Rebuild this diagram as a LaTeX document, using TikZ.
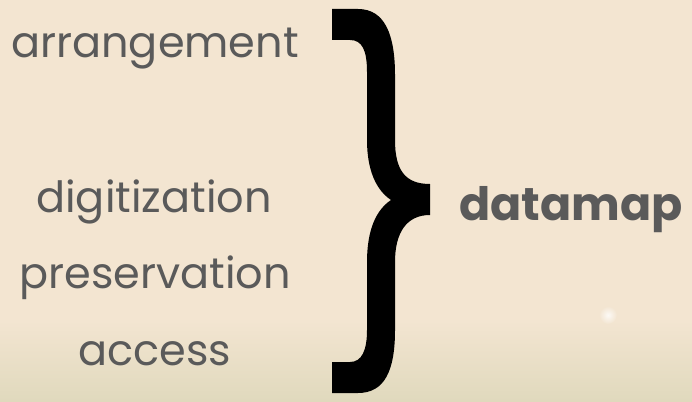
\documentclass[tikz,border=0pt]{standalone}
\usepackage{fontspec}
\setmainfont{Poppins}
\definecolor{bgtop}{RGB}{243,229,209}
\definecolor{bgbot}{RGB}{224,217,189}
\definecolor{txt}{RGB}{90,90,90}
\begin{document}
\begin{tikzpicture}[x=1pt,y=-1pt,
  word/.style={anchor=base,text=txt,font=\fontsize{43}{43}\selectfont,inner sep=0pt},
  bigword/.style={anchor=base,text=txt,font=\fontsize{46}{46}\selectfont\bfseries,inner sep=0pt}]
\useasboundingbox (0,0) rectangle (692,401);
\fill[bgtop] (0,0) rectangle (692,320);
\shade[top color=bgtop,bottom color=bgbot] (0,320) rectangle (692,401);
\shade[inner color=white,outer color=bgtop,opacity=0.8] (608,315) circle (9);
\node[word] (arr) at (155,58) {arrangement};
\node[word] (dig) at (154,212) {digitization};
\node[word] (pres) at (155,288) {preservation};
\node[word] (acc) at (155,365) {access};
\node[bigword] (dm) at (571,220) {datamap};
\fill[black] (332,9) -- (358,9) .. controls (385,9) and (395,35) .. (395,75)
  -- (395,140) .. controls (395,170) and (405,184) .. (430,184)
  -- (430,215) .. controls (407,215) and (395,232) .. (395,262)
  -- (395,330) .. controls (395,370) and (385,393) .. (358,393)
  -- (332,393) -- (332,362) -- (350,362) .. controls (362,362) and (367,350) .. (367,330)
  -- (367,262) .. controls (367,230) and (376,210) .. (391,200)
  .. controls (376,190) and (367,170) .. (367,140)
  -- (367,72) .. controls (367,50) and (362,40) .. (350,40) -- (332,40) -- cycle;
\end{tikzpicture}
\end{document}
